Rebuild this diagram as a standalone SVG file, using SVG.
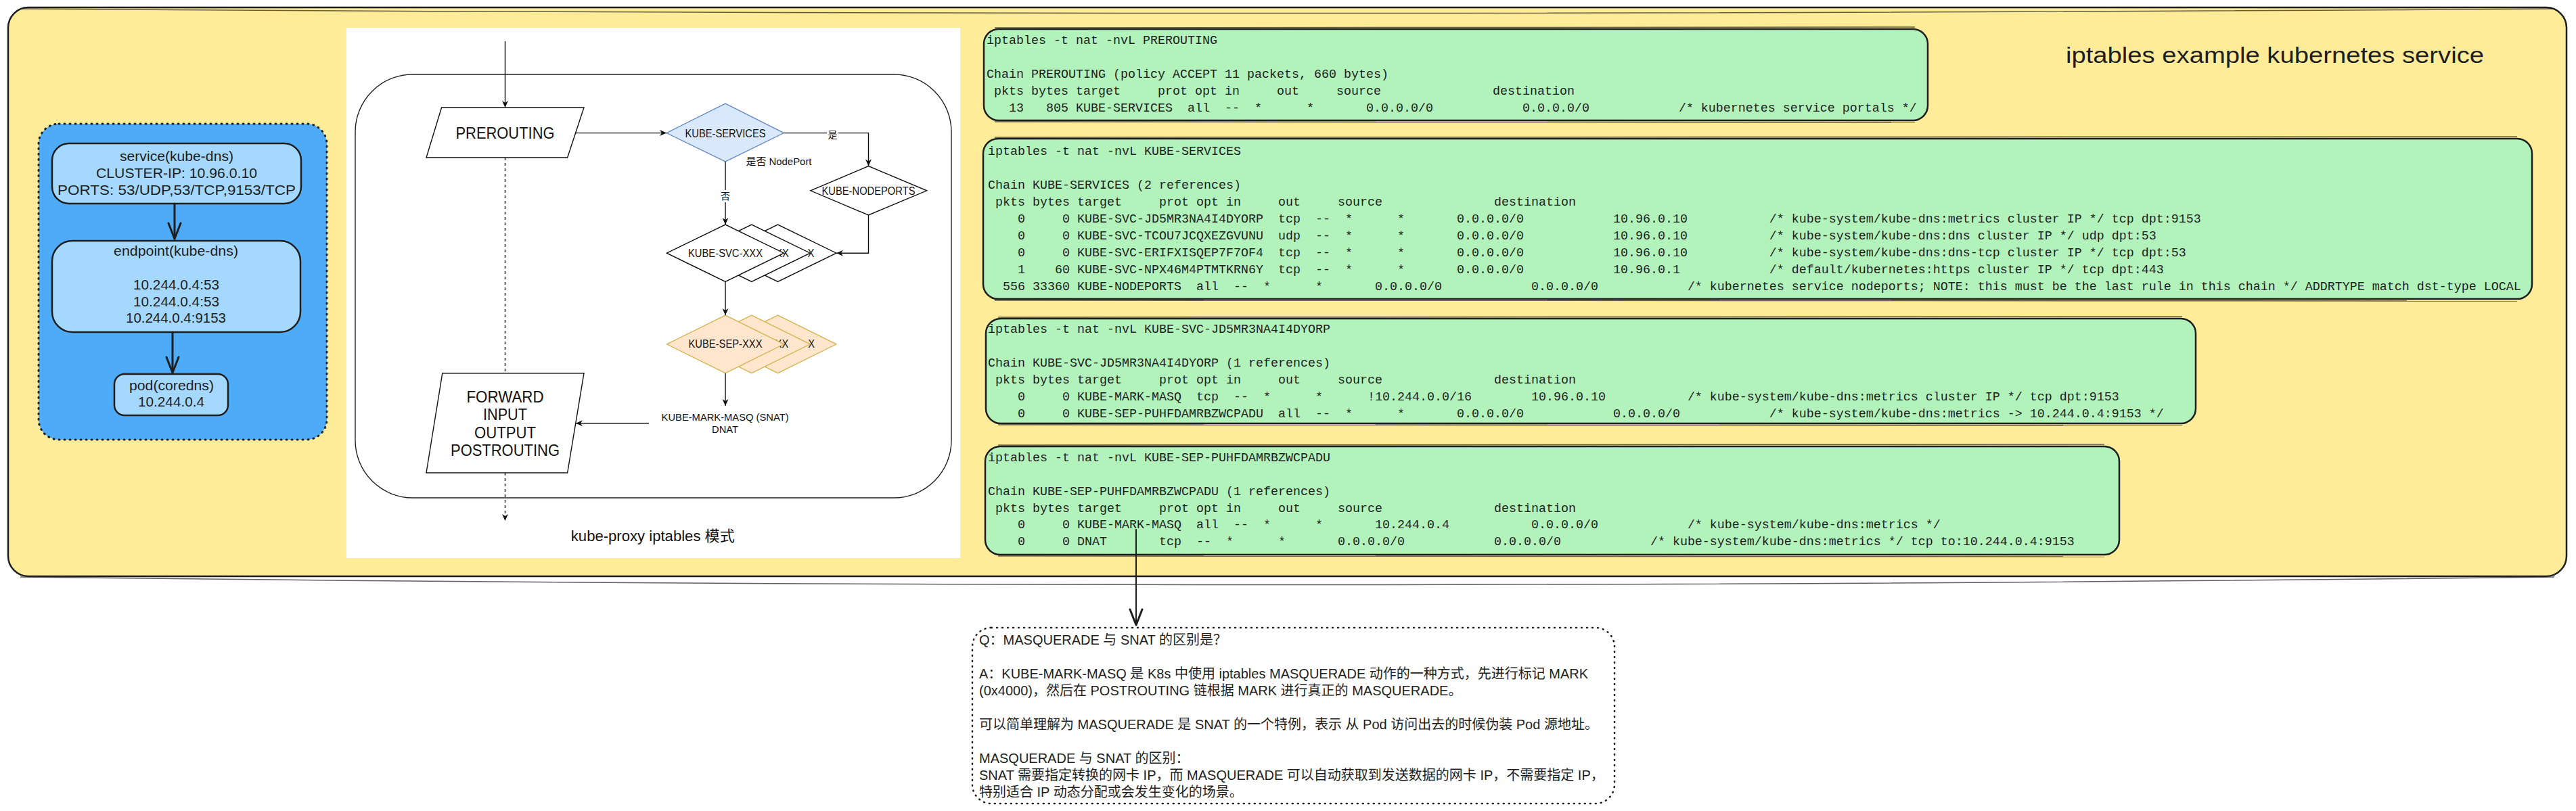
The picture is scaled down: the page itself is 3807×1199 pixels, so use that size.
<svg xmlns="http://www.w3.org/2000/svg" width="3807" height="1199" viewBox="0 0 3807 1199">
<style>
.hand{font-family:"Liberation Sans","Noto Sans CJK SC",sans-serif;fill:#1e1e1e;}
.lbl{font-family:"Liberation Sans","Noto Sans CJK SC",sans-serif;font-size:20px;fill:#1e1e1e;text-anchor:middle;}
.code{font-family:"Liberation Mono","DejaVu Sans Mono",monospace;font-size:18.33px;fill:#1e1e1e;white-space:pre;}
.codebox{fill:#b2f2bb;stroke:#1e1e1e;stroke-width:2.5;}
.sk{fill:none;stroke:#1e1e1e;stroke-width:1.5;opacity:0.7;}
.node{fill:#a5d8ff;stroke:#1e1e1e;stroke-width:2.5;}
.dio{font-family:"Liberation Sans","Noto Sans CJK SC",sans-serif;fill:#111;text-anchor:middle;}
.frag{font-family:"Liberation Sans",sans-serif;fill:#111;font-size:16px;}
.dl{fill:none;stroke:#111;stroke-width:1.4;}
.wd{fill:#fff;stroke:#111;stroke-width:1.4;}
.od{fill:#ffe6cc;stroke:#d6b656;stroke-width:1.4;}
.note{font-family:"Liberation Sans","Noto Sans CJK SC",sans-serif;font-size:20px;fill:#1e1e1e;}
</style>
<defs>
<marker id="arrF" viewBox="-11 -6 12 12" refX="0" refY="0" markerWidth="12" markerHeight="12" markerUnits="userSpaceOnUse" orient="auto"><path d="M-10,-4.5 L0,0 L-10,4.5 L-7,0 Z" fill="#111"/></marker>
<marker id="arrV" viewBox="-30 -15 34 30" refX="0" refY="0" markerWidth="34" markerHeight="30" markerUnits="userSpaceOnUse" orient="auto"><path d="M-23,-9 L0,0 L-23,9" fill="none" stroke="#1e1e1e" stroke-width="3" stroke-linecap="round" stroke-linejoin="round"/></marker>
</defs>
<rect x="0" y="0" width="3807" height="1199" fill="#ffffff"/>

<g id="frame">
<rect x="12" y="11" width="3781" height="841" rx="30" fill="#ffec99" stroke="#1e1e1e" stroke-width="2.5"/>
<path class="sk" d="M30,13 Q1900,26 3775,13"/>
<path class="sk" d="M30,853 Q1900,876 3775,853"/>
<text class="hand" x="3053" y="93" font-size="34" textLength="618" lengthAdjust="spacingAndGlyphs">iptables example kubernetes service</text>
</g>

<g id="k8s-panel">
<rect x="57" y="183" width="426" height="467" rx="30" fill="#4dabf7" stroke="#1e1e1e" stroke-width="3" stroke-dasharray="1 7" stroke-linecap="round"/>
</g>
<g id="service">
<rect class="node" x="77" y="212" width="368" height="89" rx="25"/>
<text class="lbl" x="261" y="238" textLength="168" lengthAdjust="spacingAndGlyphs">service(kube-dns)</text>
<text class="lbl" x="261" y="263" textLength="238" lengthAdjust="spacingAndGlyphs">CLUSTER-IP: 10.96.0.10</text>
<text class="lbl" x="261" y="288" textLength="352" lengthAdjust="spacingAndGlyphs">PORTS: 53/UDP,53/TCP,9153/TCP</text>
</g>
<g id="endpoint">
<rect class="node" x="77" y="356" width="367" height="135" rx="30"/>
<text class="lbl" x="260" y="378" textLength="184" lengthAdjust="spacingAndGlyphs">endpoint(kube-dns)</text>
<text class="lbl" x="260.5" y="428" textLength="127" lengthAdjust="spacingAndGlyphs">10.244.0.4:53</text>
<text class="lbl" x="260.5" y="453" textLength="127" lengthAdjust="spacingAndGlyphs">10.244.0.4:53</text>
<text class="lbl" x="260" y="477" textLength="148" lengthAdjust="spacingAndGlyphs">10.244.0.4:9153</text>
</g>
<g id="pod">
<rect class="node" x="169" y="553" width="168" height="61" rx="15"/>
<text class="lbl" x="253.5" y="577" textLength="125" lengthAdjust="spacingAndGlyphs">pod(coredns)</text>
<text class="lbl" x="253" y="601" textLength="98" lengthAdjust="spacingAndGlyphs">10.244.0.4</text>
</g>

<g id="flowchart">
<rect x="512" y="41" width="907" height="784" fill="#ffffff"/>
<rect x="525" y="110" width="881" height="626" rx="85" fill="none" stroke="#222" stroke-width="1.4"/>
<g id="prerouting">
<polygon class="wd" points="652.6,159 863,159 838.6,233 630,233"/>
<text class="dio" x="746.5" y="205" font-size="24" textLength="146" lengthAdjust="spacingAndGlyphs">PREROUTING</text>
</g>
<g id="kube-services">
<polygon points="985,196.6 1072,153 1158.5,196.6 1072,239" fill="#dae8fc" stroke="#6c8ebf" stroke-width="1.4"/>
<text class="dio" x="1072" y="202.5" font-size="17" textLength="119" lengthAdjust="spacingAndGlyphs">KUBE-SERVICES</text>
</g>
<g id="kube-nodeports">
<polygon class="wd" points="1197.8,281.8 1283.5,245.6 1369.7,281.8 1283.5,318"/>
<text class="dio" x="1283.5" y="287.5" font-size="16" textLength="138" lengthAdjust="spacingAndGlyphs">KUBE-NODEPORTS</text>
</g>
<g id="kube-svc">
<polygon class="wd" points="1062.9,374.2 1149.5,332 1236,374.2 1149.5,416.5"/>
<text class="frag" x="1193.6" y="379.7" textLength="9.9" lengthAdjust="spacingAndGlyphs">X</text>
<polygon class="wd" points="1024.2,374.2 1110.8,332 1197.3,374.2 1110.8,416.5"/>
<text class="frag" x="1146.1" y="379.7" textLength="19.7" lengthAdjust="spacingAndGlyphs">XX</text>
<polygon class="wd" points="985.4,374.2 1072,332 1158.5,374.2 1072,416.5"/>
<text class="dio" x="1072" y="379.7" font-size="16" textLength="110" lengthAdjust="spacingAndGlyphs">KUBE-SVC-XXX</text>
</g>
<g id="kube-sep">
<polygon class="od" points="1062.9,508.8 1149.5,466 1236,508.8 1149.5,551.7"/>
<text class="frag" x="1194.2" y="514.3" textLength="9.8" lengthAdjust="spacingAndGlyphs">X</text>
<polygon class="od" points="1024.2,508.8 1110.8,466 1197.3,508.8 1110.8,551.7"/>
<text class="frag" x="1145.6" y="514.3" textLength="19.7" lengthAdjust="spacingAndGlyphs">XX</text>
<polygon class="od" points="985.4,508.8 1072,466 1158.5,508.8 1072,551.7"/>
<text class="dio" x="1072" y="514.3" font-size="16" textLength="109" lengthAdjust="spacingAndGlyphs">KUBE-SEP-XXX</text>
</g>
<g id="mark-masq">
<text class="dio" x="1071.6" y="622" font-size="15" textLength="188" lengthAdjust="spacingAndGlyphs">KUBE-MARK-MASQ (SNAT)</text>
<text class="dio" x="1071.6" y="640" font-size="15" textLength="39" lengthAdjust="spacingAndGlyphs">DNAT</text>
</g>
<g id="forward">
<polygon class="wd" points="653.8,551.7 863,551.7 838.6,699 630,699"/>
<text class="dio" x="746.5" y="594.6" font-size="24" textLength="114" lengthAdjust="spacingAndGlyphs">FORWARD</text>
<text class="dio" x="746.5" y="621" font-size="24" textLength="65" lengthAdjust="spacingAndGlyphs">INPUT</text>
<text class="dio" x="746.5" y="648" font-size="24" textLength="91" lengthAdjust="spacingAndGlyphs">OUTPUT</text>
<text class="dio" x="746.5" y="673.6" font-size="24" textLength="161" lengthAdjust="spacingAndGlyphs">POSTROUTING</text>
</g>
<g id="flow-connectors">
<path class="dl" d="M746.5,61 L746.5,159" marker-end="url(#arrF)"/>
<path class="dl" d="M850.6,196.6 L985,196.6" marker-end="url(#arrF)"/>
<path class="dl" d="M1158.5,196.6 L1283.5,196.6 L1283.5,245.6" marker-end="url(#arrF)"/>
<path class="dl" d="M1283.5,318 L1283.5,374.2 L1236,374.2" marker-end="url(#arrF)"/>
<path class="dl" d="M1072,239 L1072,332" marker-end="url(#arrF)"/>
<path class="dl" d="M1072,416.5 L1072,466" marker-end="url(#arrF)"/>
<path class="dl" d="M1072,551.7 L1072,600" marker-end="url(#arrF)"/>
<path class="dl" d="M959,625.7 L851,625.7" marker-end="url(#arrF)"/>
<path class="dl" d="M746.5,233 L746.5,551.7" stroke-dasharray="4 4"/>
<path class="dl" d="M746.5,699 L746.5,770" stroke-dasharray="4 4" marker-end="url(#arrF)"/>
<rect x="1222" y="189" width="17" height="18" fill="#fff"/>
<text class="dio" x="1230.6" y="204" font-size="14">是</text>
<rect x="1063" y="281" width="18" height="18" fill="#fff"/>
<text class="dio" x="1072" y="295" font-size="14">否</text>
<text class="dio" x="1151" y="244" font-size="15" textLength="97" lengthAdjust="spacingAndGlyphs">是否 NodePort</text>
</g>
<text class="dio" x="964.8" y="800" font-size="22" textLength="242" lengthAdjust="spacingAndGlyphs">kube-proxy iptables 模式</text>
</g>

<g id="block-prerouting" xml:space="preserve">
<rect class="codebox" x="1454" y="43" width="1395" height="135" rx="22"/>
<path class="sk" d="M1470,41 L2830,40"/>
<path class="sk" d="M1470,180 L2830,181"/>
<text class="code" x="1458" y="65">iptables -t nat -nvL PREROUTING</text>
<text class="code" x="1458" y="115">Chain PREROUTING (policy ACCEPT 11 packets, 660 bytes)</text>
<text class="code" x="1458" y="140"> pkts bytes target     prot opt in     out     source               destination</text>
<text class="code" x="1458" y="165">   13   805 KUBE-SERVICES  all  --  *      *       0.0.0.0/0            0.0.0.0/0            /* kubernetes service portals */</text>
</g>

<g id="block-kube-services" xml:space="preserve">
<rect class="codebox" x="1453" y="205" width="2289" height="237" rx="22"/>
<path class="sk" d="M1470,203 L3720,202"/>
<path class="sk" d="M1470,444 L3720,445"/>
<text class="code" x="1460" y="229">iptables -t nat -nvL KUBE-SERVICES</text>
<text class="code" x="1460" y="279">Chain KUBE-SERVICES (2 references)</text>
<text class="code" x="1460" y="304"> pkts bytes target     prot opt in     out     source               destination</text>
<text class="code" x="1460" y="329">    0     0 KUBE-SVC-JD5MR3NA4I4DYORP  tcp  --  *      *       0.0.0.0/0            10.96.0.10           /* kube-system/kube-dns:metrics cluster IP */ tcp dpt:9153</text>
<text class="code" x="1460" y="354">    0     0 KUBE-SVC-TCOU7JCQXEZGVUNU  udp  --  *      *       0.0.0.0/0            10.96.0.10           /* kube-system/kube-dns:dns cluster IP */ udp dpt:53</text>
<text class="code" x="1460" y="379">    0     0 KUBE-SVC-ERIFXISQEP7F7OF4  tcp  --  *      *       0.0.0.0/0            10.96.0.10           /* kube-system/kube-dns:dns-tcp cluster IP */ tcp dpt:53</text>
<text class="code" x="1460" y="404">    1    60 KUBE-SVC-NPX46M4PTMTKRN6Y  tcp  --  *      *       0.0.0.0/0            10.96.0.1            /* default/kubernetes:https cluster IP */ tcp dpt:443</text>
<text class="code" x="1460" y="429">  556 33360 KUBE-NODEPORTS  all  --  *      *       0.0.0.0/0            0.0.0.0/0            /* kubernetes service nodeports; NOTE: this must be the last rule in this chain */ ADDRTYPE match dst-type LOCAL</text>
</g>

<g id="block-kube-svc" xml:space="preserve">
<rect class="codebox" x="1457" y="471" width="1788" height="155" rx="22"/>
<path class="sk" d="M1475,469 L3225,468"/>
<path class="sk" d="M1475,628 L3225,629"/>
<text class="code" x="1460" y="492">iptables -t nat -nvL KUBE-SVC-JD5MR3NA4I4DYORP</text>
<text class="code" x="1460" y="542">Chain KUBE-SVC-JD5MR3NA4I4DYORP (1 references)</text>
<text class="code" x="1460" y="567"> pkts bytes target     prot opt in     out     source               destination</text>
<text class="code" x="1460" y="592">    0     0 KUBE-MARK-MASQ  tcp  --  *      *      !10.244.0.0/16        10.96.0.10           /* kube-system/kube-dns:metrics cluster IP */ tcp dpt:9153</text>
<text class="code" x="1460" y="617">    0     0 KUBE-SEP-PUHFDAMRBZWCPADU  all  --  *      *       0.0.0.0/0            0.0.0.0/0            /* kube-system/kube-dns:metrics -&gt; 10.244.0.4:9153 */</text>
</g>

<g id="block-kube-sep" xml:space="preserve">
<rect class="codebox" x="1456" y="660" width="1676" height="160" rx="22"/>
<path class="sk" d="M1475,658 L3110,657"/>
<path class="sk" d="M1475,822 L3110,823"/>
<text class="code" x="1460" y="682">iptables -t nat -nvL KUBE-SEP-PUHFDAMRBZWCPADU</text>
<text class="code" x="1460" y="732">Chain KUBE-SEP-PUHFDAMRBZWCPADU (1 references)</text>
<text class="code" x="1460" y="757"> pkts bytes target     prot opt in     out     source               destination</text>
<text class="code" x="1460" y="781">    0     0 KUBE-MARK-MASQ  all  --  *      *       10.244.0.4           0.0.0.0/0            /* kube-system/kube-dns:metrics */</text>
<text class="code" x="1460" y="806">    0     0 DNAT       tcp  --  *      *       0.0.0.0/0            0.0.0.0/0            /* kube-system/kube-dns:metrics */ tcp to:10.244.0.4:9153</text>
</g>

<g id="connectors">
<path d="M258,301 L258,353" fill="none" stroke="#1e1e1e" stroke-width="3" stroke-linecap="round" marker-end="url(#arrV)"/>
<path d="M255,491 L255,551" fill="none" stroke="#1e1e1e" stroke-width="3" stroke-linecap="round" marker-end="url(#arrV)"/>
<path d="M1679,783 L1679,924" fill="none" stroke="#1e1e1e" stroke-width="2" stroke-linecap="round" marker-end="url(#arrV)"/>
</g>

<g id="note">
<rect x="1437" y="928" width="949" height="260" rx="28" fill="none" stroke="#1e1e1e" stroke-width="2.5" stroke-dasharray="1 7" stroke-linecap="round"/>
<text class="note" x="1447" y="953">Q：MASQUERADE 与 SNAT 的区别是？</text>
<text class="note" x="1447" y="1003">A：KUBE-MARK-MASQ 是 K8s 中使用 iptables MASQUERADE 动作的一种方式，先进行标记 MARK</text>
<text class="note" x="1447" y="1028">(0x4000)，然后在 POSTROUTING 链根据 MARK 进行真正的 MASQUERADE。</text>
<text class="note" x="1447" y="1078">可以简单理解为 MASQUERADE 是 SNAT 的一个特例，表示 从 Pod 访问出去的时候伪装 Pod 源地址。</text>
<text class="note" x="1447" y="1128">MASQUERADE 与 SNAT 的区别：</text>
<text class="note" x="1447" y="1153">SNAT 需要指定转换的网卡 IP，而 MASQUERADE 可以自动获取到发送数据的网卡 IP，不需要指定 IP，</text>
<text class="note" x="1447" y="1178">特别适合 IP 动态分配或会发生变化的场景。</text>
</g>
</svg>
